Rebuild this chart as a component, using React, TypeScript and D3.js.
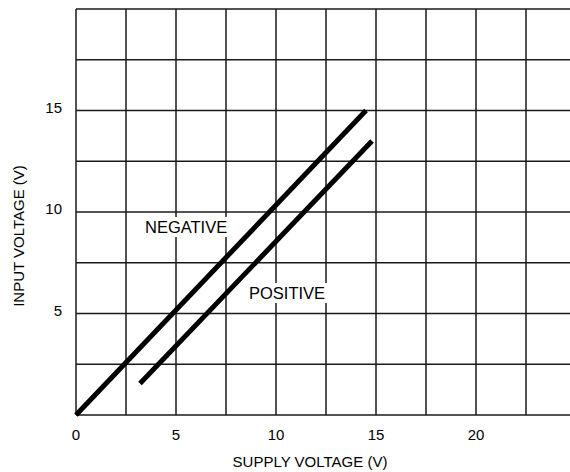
import React from "react";
import * as d3 from "d3";

// readings (volts)
const negativeLine: [number, number][] = [
  [0, 0],
  [14.5, 15],
];
const positiveLine: [number, number][] = [
  [3.2, 1.55],
  [14.8, 13.5],
];
const xTickLabels = [0, 5, 10, 15, 20];
const yTickLabels = [5, 10, 15];
const gridStep = 2.5;

const W = 570;
const H = 472;
const margin = { left: 76, top: 9, bottom: 57 };
const font = "'Liberation Sans', Arial, sans-serif";

export default function App() {
  const x = d3.scaleLinear().domain([0, 25]).range([margin.left, margin.left + 500]);
  const y = d3.scaleLinear().domain([0, 20]).range([H - margin.bottom, margin.top]);

  const xGrid = d3.range(0, 25 + 0.01, gridStep);
  const yGrid = d3.range(0, 20 + 0.01, gridStep);

  const line = d3
    .line<[number, number]>()
    .x((d) => x(d[0]))
    .y((d) => y(d[1]));

  return (
    <svg
      width={W}
      height={H}
      style={{ position: "absolute", left: 0, top: 0, background: "#fff" }}
      fontFamily={font}
    >
      <g stroke="#1a1a1a" strokeWidth={1.5}>
        {xGrid.map((v) => (
          <line key={"x" + v} x1={x(v)} x2={x(v)} y1={y(0)} y2={y(20)} />
        ))}
        {yGrid.map((v) => (
          <line key={"y" + v} x1={x(0)} x2={x(25)} y1={y(v)} y2={y(v)} />
        ))}
      </g>

      {/* labels on white so the grid breaks behind them */}
      <rect x={143} y={217} width={90} height={20} fill="#fff" />
      <text x={145} y={233} fontSize={16.5} fill="#000">
        NEGATIVE
      </text>
      <rect x={247} y={283} width={85} height={20} fill="#fff" />
      <text x={249} y={299} fontSize={16.5} fill="#000">
        POSITIVE
      </text>

      <path d={line(negativeLine) || ""} fill="none" stroke="#000" strokeWidth={5} strokeLinecap="butt" />
      <path d={line(positiveLine) || ""} fill="none" stroke="#000" strokeWidth={5} strokeLinecap="butt" />

      {xTickLabels.map((v) => (
        <text key={"tx" + v} x={x(v)} y={440} fontSize={15} textAnchor="middle">
          {v}
        </text>
      ))}
      {yTickLabels.map((v) => (
        <text key={"ty" + v} x={62} y={y(v) + 2} fontSize={15} textAnchor="end">
          {v}
        </text>
      ))}

      <text x={310} y={467} fontSize={15} textAnchor="middle">
        SUPPLY VOLTAGE (V)
      </text>
      <text transform="translate(24,236) rotate(-90)" fontSize={15} textAnchor="middle">
        INPUT VOLTAGE (V)
      </text>
    </svg>
  );
}
